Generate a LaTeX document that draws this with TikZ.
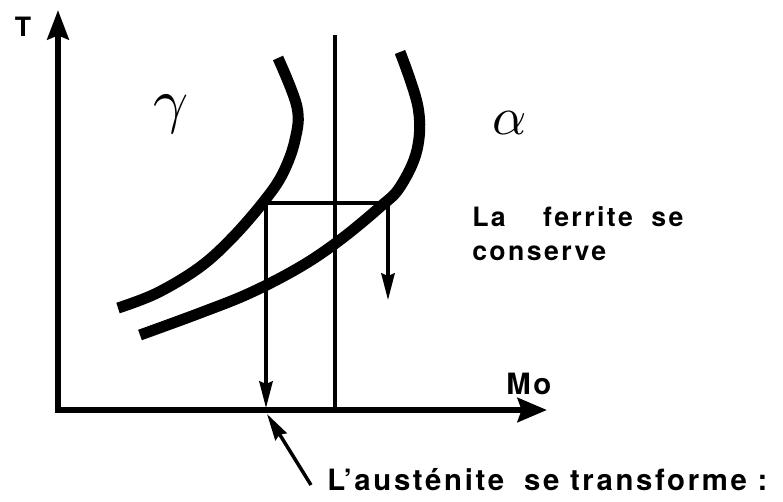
\documentclass[tikz,border=0pt]{standalone}
\usepackage{graphicx}
\usepackage{fontspec}
\newfontfamily\helv[LetterSpace=9]{TeX Gyre Heros}
\usetikzlibrary{arrows.meta}
\begin{document}
\begin{tikzpicture}[
    x=0.75pt, y=-0.75pt,
    line join=miter,
    axis/.style={
        line width=4.5pt,
        {Stealth[length=22pt,width=16pt,inset=3pt]}-{Stealth[length=22pt,width=18pt,inset=3pt]}
    },
    phase/.style={line width=8.3pt},
    cool/.style={line width=2.6pt, -{Stealth[length=20pt,width=10pt,inset=2pt]}},
    lbl/.style={font=\helv\bfseries\fontsize{20}{22}\selectfont, inner sep=0pt, anchor=west},
    greek/.style={inner sep=0pt}
]
\useasboundingbox (0,0) rectangle (783,501);

% axes
\coordinate (o) at (58,410);
\coordinate (ttop) at (58,10);
\coordinate (mend) at (547,410);
\draw[axis] (ttop) -- (o) -- (mend);

\node[lbl, anchor=center] (T) at (23,27) {T};
\node[lbl, font=\helv\bfseries\fontsize{22}{24}\selectfont] (Mo) at (506,384) {Mo};

% phase boundaries
\draw[phase] plot[smooth, tension=0.6] coordinates
    {(118,308) (157,293) (200,267) (233,237) (265,200) (283,173)
     (295,140) (297,107) (278,58)};
\draw[phase] plot[smooth, tension=0.6] coordinates
    {(140,335) (200,313) (250,293) (300,267) (340,240) (380,207)
     (400,187) (417,150) (418,107) (400,52)};

\node[greek] (gamma) at (171,114) {\scalebox{4.6}{$\gamma$}};
\node[greek] (alpha) at (510,123) {\scalebox{4}{$\alpha$}};

% composition line
\coordinate (c top) at (335,35);
\coordinate (c bot) at (335,410);
\draw[line width=3.4pt] (c top) -- (c bot);

% cooling paths
\coordinate (h1) at (266,203);
\coordinate (h2) at (388,203);
\coordinate (d1) at (266,408);
\coordinate (d2) at (388,300);
\draw[line width=2.8pt] (h1) -- (h2);
\draw[cool] (h1) -- (d1);
\draw[cool] (h2) -- (d2);

\node[lbl] (ferrite) at (472,217) {La\hspace{28pt}ferrite\hspace{14pt}se};
\node[lbl] (conserve) at (472,253) {conserve};

\node[lbl, font=\helv\bfseries\fontsize{22}{24}\selectfont] (aust) at (327,480)
    {L’austénite\hspace{15pt}se\hspace{8pt}transforme\hspace{8pt}:};
\coordinate (p) at (311,485);
\draw[cool] (p) -- (267,414);

\end{tikzpicture}
\end{document}
